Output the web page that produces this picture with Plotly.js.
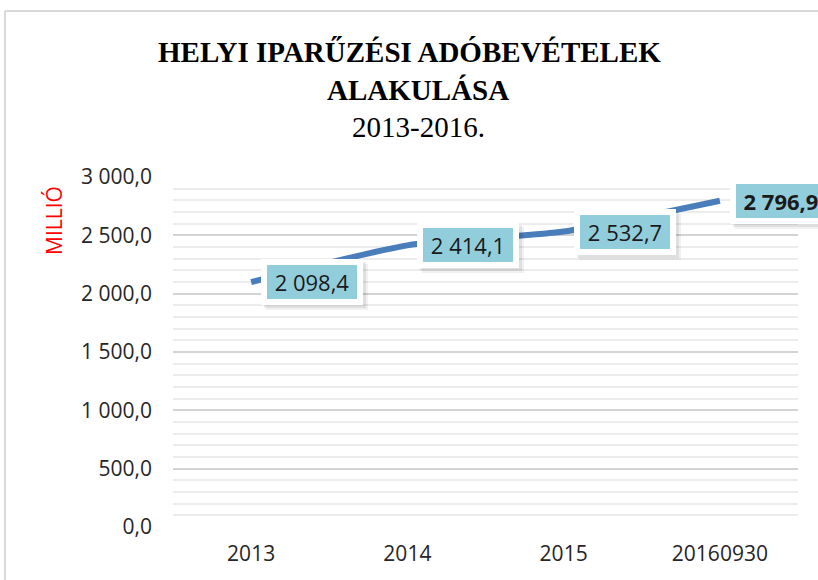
<!DOCTYPE html>
<html>
<head>
<meta charset="utf-8">
<script src="https://cdn.plot.ly/plotly-3.0.1.min.js"></script>
<style>html,body{margin:0;padding:0;background:#fff;}#chart{width:818px;height:580px;}</style>
</head>
<body>
<div id="chart"></div>
<script>
// ---- data ----
const categories = ['2013', '2014', '2015', '20160930'];
const values = [2098.4, 2414.1, 2532.7, 2796.9];
const valueLabels = ['2 098,4', '2 414,1', '2 532,7', '2 796,9'];
const yTickVals = [0, 500, 1000, 1500, 2000, 2500, 3000];
const yTickText = ['0,0', '500,0', '1 000,0', '1 500,0', '2 000,0', '2 500,0', '3 000,0'];
const titleLines = ['HELYI IPARŰZÉSI ADÓBEVÉTELEK', 'ALAKULÁSA', '2013-2016.'];
const yTitle = 'MILLIÓ';

// ---- geometry helpers ----
const W = 818, H = 580;
const M = {l: 173, r: 20, t: 177, b: 53};
const plotH = H - M.t - M.b;
const plotW = W - M.l - M.r;
const py = p => (H - M.b - p) / plotH;   // pixel y -> paper y
const px = p => (p - M.l) / plotW;       // pixel x -> paper x

const trace = {
  type: 'scatter',
  mode: 'lines',
  x: categories,
  y: values,
  line: {color: '#4A7EBB', width: 6, shape: 'spline', smoothing: 0.6},
  hoverinfo: 'skip',
  showlegend: false
};

const BOX_W = 88, BOX_H = 32;
const labelText = i => (i === 3 ? '<b>' + valueLabels[i] + '</b>' : valueLabels[i]);
const annotations = [];
// soft shadows (two layers, boxes without text)
[[3, -3, 0.07], [5, -5, 0.05]].forEach(([dx, dy, op]) => {
  categories.forEach((c, i) => {
    annotations.push({
      x: i, y: values[i], xref: 'x', yref: 'y',
      text: ' ', width: BOX_W, height: BOX_H,
      showarrow: false, xanchor: 'left', yanchor: 'middle',
      xshift: 10 + dx, yshift: dy,
      font: {family: 'Open Sans, sans-serif', size: 22, color: '#000'},
      bgcolor: '#000', bordercolor: '#000', borderwidth: 6, borderpad: 1,
      opacity: op
    });
  });
});
// labels
categories.forEach((c, i) => {
  annotations.push({
    x: i, y: values[i], xref: 'x', yref: 'y',
    text: labelText(i), width: BOX_W, height: BOX_H, align: 'center',
    showarrow: false, xanchor: 'left', yanchor: 'middle',
    xshift: 10, yshift: 0,
    font: {family: 'Open Sans, sans-serif', size: 22, color: '#1a1a1a'},
    bgcolor: '#92CDDC', bordercolor: '#ffffff', borderwidth: 6, borderpad: 1
  });
});
// title lines
annotations.push({
  xref: 'paper', yref: 'paper', x: px(409), y: py(52), xanchor: 'center', yanchor: 'middle',
  text: '<b>' + titleLines[0] + '</b>', showarrow: false,
  font: {family: 'Liberation Serif, serif', size: 29, color: '#000'}
});
annotations.push({
  xref: 'paper', yref: 'paper', x: px(418), y: py(90), xanchor: 'center', yanchor: 'middle',
  text: '<b>' + titleLines[1] + '</b>', showarrow: false,
  font: {family: 'Liberation Serif, serif', size: 29, color: '#000'}
});
annotations.push({
  xref: 'paper', yref: 'paper', x: px(418), y: py(127), xanchor: 'center', yanchor: 'middle',
  text: titleLines[2], showarrow: false,
  font: {family: 'Liberation Serif, serif', size: 29, color: '#000'}
});
// y axis title
annotations.push({
  xref: 'paper', yref: 'paper', x: px(54), y: py(220), xanchor: 'center', yanchor: 'middle',
  text: yTitle, textangle: -90, showarrow: false,
  font: {family: 'Open Sans, sans-serif', size: 21, color: '#FF0000'}
});

const shapes = [
  {type: 'line', xref: 'paper', yref: 'paper', x0: px(5), x1: px(830), y0: py(11), y1: py(11),
   line: {color: '#d9d9d9', width: 2}},
  {type: 'line', xref: 'paper', yref: 'paper', x0: px(5), x1: px(5), y0: py(11), y1: py(590),
   line: {color: '#d9d9d9', width: 2}}
];

const layout = {
  width: W, height: H,
  margin: M,
  paper_bgcolor: '#ffffff',
  plot_bgcolor: '#ffffff',
  showlegend: false,
  xaxis: {
    type: 'category',
    range: [-0.5, 3.5],
    showgrid: false, zeroline: false, showline: false,
    ticks: '', ticklabelstandoff: 12,
    tickfont: {family: 'Open Sans, sans-serif', size: 21, color: '#262626'},
    fixedrange: true
  },
  yaxis: {
    range: [0, 3000],
    tickvals: yTickVals,
    ticktext: yTickText,
    showgrid: true, gridcolor: '#d4d4d4', gridwidth: 2,
    minor: {dtick: 100, tick0: 0, showgrid: true, gridcolor: '#ececec', gridwidth: 2},
    zeroline: false, showline: false, ticks: '',
    ticklabelstandoff: 20,
    tickfont: {family: 'Open Sans, sans-serif', size: 21, color: '#262626'},
    fixedrange: true
  },
  annotations: annotations,
  shapes: shapes
};

Plotly.newPlot('chart', [trace], layout, {displayModeBar: false, staticPlot: true});
</script>
</body>
</html>
